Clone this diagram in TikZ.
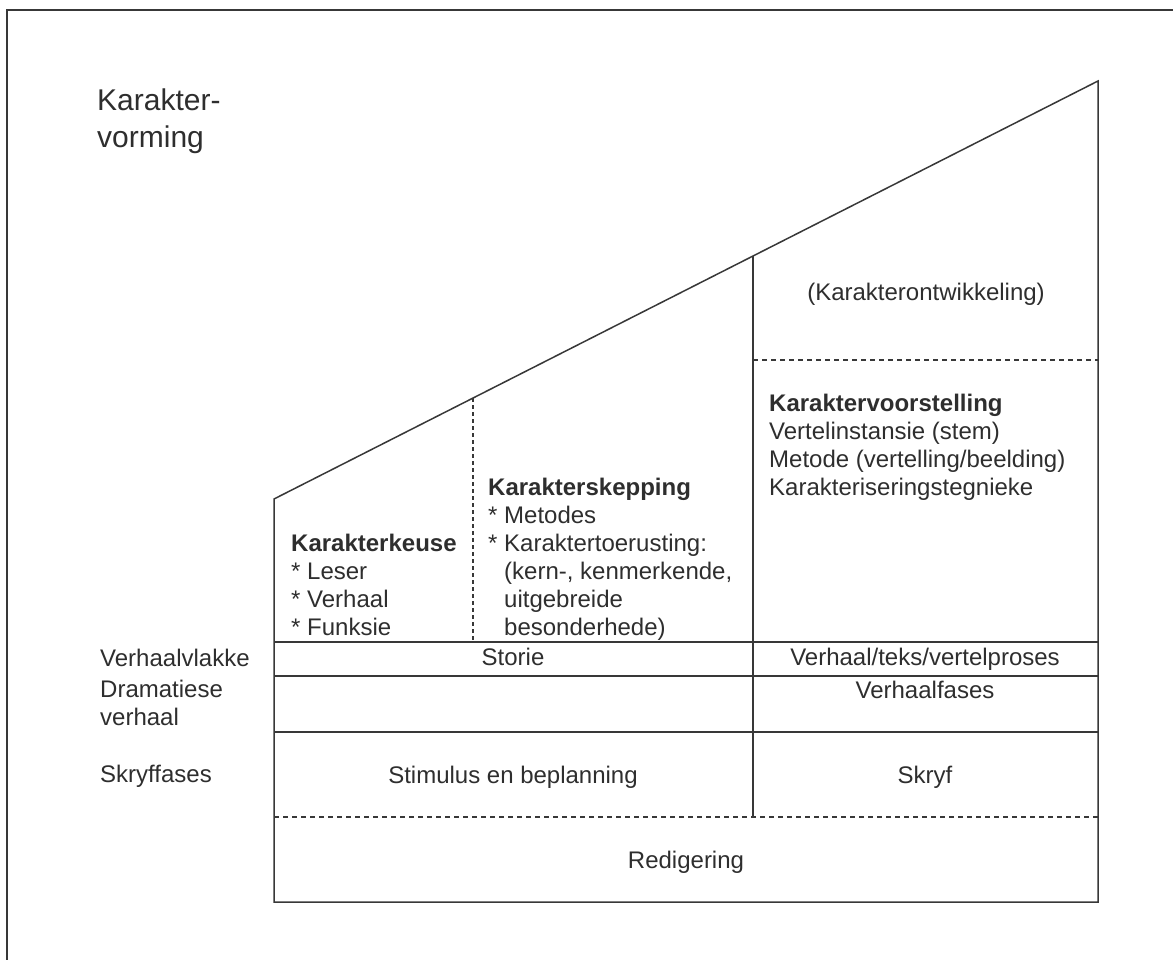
\documentclass[tikz,border=0pt]{standalone}
\usepackage{fontspec}
\setmainfont{Liberation Sans}
\definecolor{lc}{HTML}{383838}
\definecolor{tc}{HTML}{2E2E2E}
\begin{document}
\begin{tikzpicture}[x=1pt,y=-1pt,
  ln/.style={line width=1.5pt, draw=lc},
  dl/.style={line width=1.1pt, draw=lc, dash pattern=on 5pt off 4pt},
  txt/.style={text=tc, inner sep=0pt, font=\fontsize{24}{28}\selectfont},
  lbl/.style={txt, anchor=base west, align=left},
  ctr/.style={txt, anchor=base}
]
\useasboundingbox (0,0) rectangle (1173,960);
% frame (cropped scan: left and top edges)
\coordinate (F1) at (7,960);
\coordinate (F2) at (7,10);
\coordinate (F3) at (1173,10);
\draw[ln] (F1) -- (F2) -- (F3);
% main outline
\coordinate (A) at (274,499);
\coordinate (B) at (1098,81);
\coordinate (C) at (274,902);
\coordinate (D) at (1098,902);
\coordinate (M) at (753,256);
\coordinate (Mb) at (753,817);
\coordinate (Q) at (473,398);
\coordinate (Qb) at (473,642);
\coordinate (H1l) at (274,642);
\coordinate (H1r) at (1098,642);
\coordinate (H2l) at (274,676);
\coordinate (H2r) at (1098,676);
\coordinate (H3l) at (274,732);
\coordinate (H3r) at (1098,732);
\coordinate (H4l) at (274,817);
\coordinate (H4r) at (1098,817);
\coordinate (H5l) at (753,360);
\coordinate (H5r) at (1098,360);
\draw[ln] (C) -- (A) -- (B) -- (D) -- cycle;
\draw[ln] (H1l) -- (H1r);
\draw[ln] (H2l) -- (H2r);
\draw[ln] (H3l) -- (H3r);
\draw[ln] (M) -- (Mb);
\draw[dl] (H4l) -- (H4r);
\draw[dl] (H5l) -- (H5r);
\draw[dl, dash pattern=on 4pt off 3pt] (Q) -- (Qb);
% title (base anchor = baseline of last line)
\node[lbl, font=\fontsize{30}{37}\selectfont] (title) at (97,148) {Karakter-\\vorming};
% row labels
\node[lbl] (rl1) at (100,666) {Verhaalvlakke};
\node[lbl] (rl2) at (100,725) {Dramatiese\\verhaal};
\node[lbl] (rl3) at (100,782) {Skryffases};
% blocks
\node[lbl] (keuse) at (291,635) {\textbf{Karakterkeuse}\\* Leser\\* Verhaal\\* Funksie};
\node[lbl] (skep) at (488,635) {\textbf{Karakterskepping}\\* Metodes\\* Karaktertoerusting:\\\phantom{* }(kern-, kenmerkende,\\\phantom{* }uitgebreide\\\phantom{* }besonderhede)};
\node[lbl] (voor) at (769,495) {\textbf{Karaktervoorstelling}\\Vertelinstansie (stem)\\Metode (vertelling/beelding)\\Karakteriseringstegnieke};
\node[ctr] (ontw) at (926,301) {(Karakterontwikkeling)};
% table cells
\node[ctr] (storie) at (513,665) {Storie};
\node[ctr] (vtv) at (925,665) {Verhaal/teks/vertelproses};
\node[ctr] (vf) at (925,698) {Verhaalfases};
\node[ctr] (stim) at (513,783) {Stimulus en beplanning};
\node[ctr] (skryf) at (925,783) {Skryf};
\node[ctr] (redig) at (686,868) {Redigering};
\end{tikzpicture}
\end{document}
